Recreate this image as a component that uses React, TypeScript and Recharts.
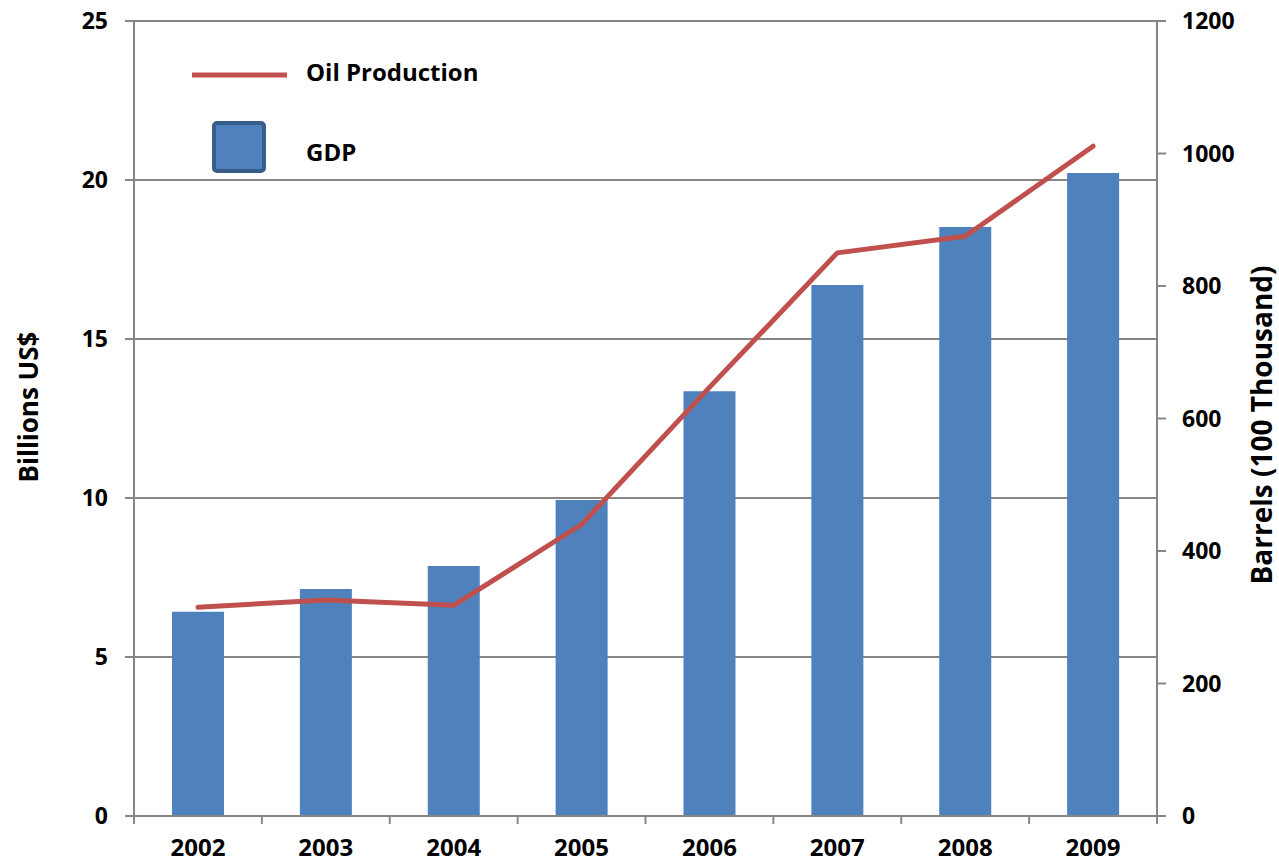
import React from 'react';
import {
  ComposedChart,
  Bar,
  Line,
  XAxis,
  YAxis,
  CartesianGrid,
  Legend,
} from 'recharts';

const years = ['2002', '2003', '2004', '2005', '2006', '2007', '2008', '2009'];
const gdp = [6.42, 7.14, 7.86, 9.94, 13.36, 16.7, 18.52, 20.22];
const oil = [315, 326, 318, 440, 647, 850, 875, 1011];
const leftTicks = [0, 5, 10, 15, 20, 25];
const rightTicks = [0, 200, 400, 600, 800, 1000, 1200];

const data = years.map((y, i) => ({ year: y, gdp: gdp[i], oil: oil[i] }));

const FONT = "'Open Sans', 'DejaVu Sans', sans-serif";
const GRID = '#868686';
const BAR = '#4f81bd';
const LINE = '#c0504d';

const W = 1279;
const H = 863;
const PLOT_LEFT = 134;
const PLOT_RIGHT = 1157;
const PLOT_TOP = 21;
const PLOT_BOTTOM = 816;
const BAND = (PLOT_RIGHT - PLOT_LEFT) / years.length;

const XTick = (props: any) => {
  const { x, y, payload, index } = props;
  const half = BAND / 2;
  const last = index === years.length - 1;
  return (
    <g>
      <line x1={x - half} x2={x - half} y1={y} y2={y + 8} stroke={GRID} strokeWidth={2} />
      {last && <line x1={x + half} x2={x + half} y1={y} y2={y + 8} stroke={GRID} strokeWidth={2} />}
      <text
        x={x}
        y={y + 40}
        textAnchor="middle"
        fill="#000"
        fontFamily={FONT}
        fontWeight={700}
        fontSize={24}
      >
        {payload.value}
      </text>
    </g>
  );
};

const LeftTitle = () => {
  const cx = 28;
  const cy = 407;
  return (
    <text
      x={cx}
      y={cy}
      transform={`rotate(-90, ${cx}, ${cy})`}
      textAnchor="middle"
      dominantBaseline="central"
      fill="#000"
      fontFamily={FONT}
      fontWeight={700}
      fontSize={26}
    >
      Billions US$
    </text>
  );
};

const RightTitle = () => {
  const cx = 1261;
  const cy = 425;
  return (
    <text
      x={cx}
      y={cy}
      transform={`rotate(-90, ${cx}, ${cy})`}
      textAnchor="middle"
      dominantBaseline="central"
      fill="#000"
      fontFamily={FONT}
      fontWeight={700}
      fontSize={28}
    >
      Barrels (100 Thousand)
    </text>
  );
};

const LegendContent = () => (
  <svg width={600} height={200} style={{ display: 'block' }}>
    <line x1={192} x2={287} y1={75} y2={75} stroke={LINE} strokeWidth={5} />
    <text
      x={306}
      y={71}
      dominantBaseline="central"
      fill="#000"
      fontFamily={FONT}
      fontWeight={700}
      fontSize={24}
    >
      Oil Production
    </text>
    <rect x={214} y={123} width={50} height={48} rx={3} fill={BAR} stroke="#385d8a" strokeWidth={4} />
    <text
      x={306}
      y={151}
      dominantBaseline="central"
      fill="#000"
      fontFamily={FONT}
      fontWeight={700}
      fontSize={24}
    >
      GDP
    </text>
  </svg>
);

const tickStyle = { fill: '#000', fontFamily: FONT, fontWeight: 700, fontSize: 23 };

export default function App() {
  return (
    <div style={{ position: 'absolute', left: 0, top: 0, width: W, height: H, background: '#fff' }}>
      <ComposedChart
        width={W}
        height={H}
        data={data}
        margin={{ top: PLOT_TOP, right: 0, left: 0, bottom: 0 }}
        barCategoryGap="30%"
      >
        <CartesianGrid yAxisId="left" horizontal vertical={false} stroke={GRID} strokeWidth={2} />
        <XAxis
          dataKey="year"
          height={H - PLOT_BOTTOM}
          axisLine={{ stroke: GRID, strokeWidth: 2 }}
          tickLine={false}
          tickSize={0}
          tickMargin={0}
          tick={<XTick />}
          interval={0}
        />
        <YAxis
          yAxisId="left"
          orientation="left"
          width={PLOT_LEFT}
          domain={[0, 25]}
          ticks={leftTicks}
          interval={0}
          axisLine={{ stroke: GRID, strokeWidth: 2 }}
          tickLine={{ stroke: GRID, strokeWidth: 2 }}
          tickSize={9}
          tickMargin={17}
          tick={tickStyle}
          label={<LeftTitle />}
        />
        <YAxis
          yAxisId="right"
          orientation="right"
          width={W - PLOT_RIGHT}
          domain={[0, 1200]}
          ticks={rightTicks}
          interval={0}
          axisLine={{ stroke: GRID, strokeWidth: 2 }}
          tickLine={{ stroke: GRID, strokeWidth: 2 }}
          tickSize={9}
          tickMargin={16}
          tick={{ ...tickStyle, textAnchor: 'start' }}
          label={<RightTitle />}
        />
        <Legend
          layout="vertical"
          align="center"
          verticalAlign="middle"
          wrapperStyle={{ left: 0, top: 0, width: 600, height: 200 }}
          content={<LegendContent />}
        />
        <Bar yAxisId="left" dataKey="gdp" name="GDP" fill={BAR} barSize={52} isAnimationActive={false} />
        <Line
          yAxisId="right"
          dataKey="oil"
          name="Oil Production"
          type="linear"
          stroke={LINE}
          strokeWidth={5}
          strokeLinecap="round"
          strokeLinejoin="round"
          dot={false}
          activeDot={false}
          isAnimationActive={false}
        />
      </ComposedChart>
    </div>
  );
}
